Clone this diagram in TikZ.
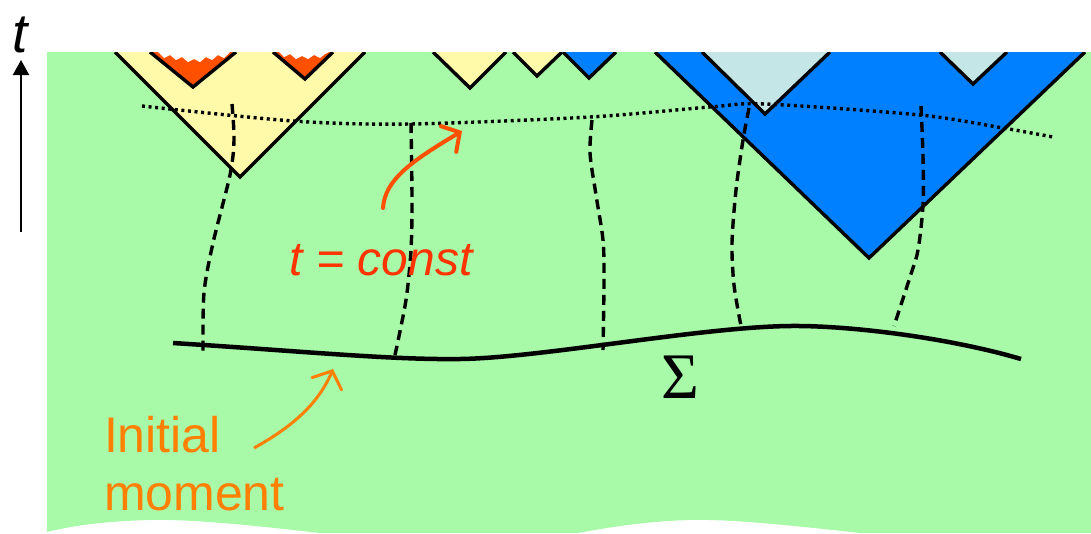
\documentclass[tikz,border=0pt]{standalone}
\usepackage{fontspec}
\setmainfont{Liberation Sans}
\newfontfamily\sigmafont{Liberation Serif}
\usetikzlibrary{arrows.meta}
\definecolor{bggreen}{RGB}{168,250,168}
\definecolor{lyellow}{RGB}{255,250,170}
\definecolor{hotorange}{RGB}{255,80,0}
\definecolor{skyblue}{RGB}{0,128,255}
\definecolor{paleblue}{RGB}{196,230,230}
\definecolor{redtext}{RGB}{255,51,0}
\definecolor{arrowred}{RGB}{255,80,0}
\definecolor{initorange}{RGB}{255,128,0}
\begin{document}
\begin{tikzpicture}[x=1pt,y=-1pt,
  coneedge/.style={line width=3.4pt,line join=miter},
  worldline/.style={line width=3.4pt,dash pattern=on 10pt off 6pt},
  slice/.style={line width=3.4pt,dash pattern=on 3pt off 3.6pt},
  surface/.style={line width=4.5pt},
  label/.style={inner sep=0pt,outer sep=0pt}]
\useasboundingbox (0,0) rectangle (1091,533);
% background sheet with torn bottom edge
\fill[bggreen] (47,52) -- (1091,52) -- (1091,533) -- (860,533)
  .. controls (780,524) and (725,519) .. (690,520)
  .. controls (650,521) and (610,527) .. (578,533)
  -- (320,533)
  .. controls (250,525) and (190,519) .. (150,520)
  .. controls (110,521) and (75,525) .. (47,532) -- cycle;
\begin{scope}
\clip (47,52) rectangle (1091,533);
% big yellow cone
\fill[lyellow] (115,52) -- (240,177) -- (365,52) -- cycle;
\draw[coneedge] (115,52) -- (240,177) -- (365,52);
% orange cones with singular (zigzag) tops
\fill[hotorange] (150,52) -- (193,87) -- (236,52) -- cycle;
\fill[white] (158,50) -- (158,52) -- (164,58) -- (170,55) -- (176,60) -- (182,57) -- (188,62) -- (194,59)
  -- (200,62) -- (206,57) -- (212,60) -- (218,55) -- (224,58) -- (230,52) -- (230,50) -- cycle;
\draw[coneedge] (150,52) -- (193,87) -- (236,52);
\fill[hotorange] (273,52) -- (305,79) -- (333,52) -- cycle;
\fill[white] (279,50) -- (279,52) -- (284,57) -- (290,54) -- (296,59) -- (302,56) -- (308,59) -- (314,55)
  -- (320,58) -- (325,54) -- (329,52) -- (329,50) -- cycle;
\draw[coneedge] (273,52) -- (305,79) -- (333,52);
% small cones in the middle
\fill[lyellow] (433,52) -- (470,88) -- (506,52) -- cycle;
\draw[coneedge] (433,52) -- (470,88) -- (506,52);
\fill[lyellow] (513,52) -- (537,76) -- (562,52) -- cycle;
\draw[coneedge] (513,52) -- (537,76) -- (562,52);
\fill[skyblue] (563,52) -- (589,78) -- (616,52) -- cycle;
\draw[coneedge] (563,52) -- (589,78) -- (616,52);
% big blue cone
\fill[skyblue] (655,52) -- (869,258) -- (1085,52) -- cycle;
\draw[coneedge] (655,52) -- (869,258) -- (1085,52);
\fill[paleblue] (702,52) -- (765,114) -- (830,52) -- cycle;
\draw[coneedge] (702,52) -- (765,114) -- (830,52);
\fill[paleblue] (940,52) -- (973,84) -- (1007,52) -- cycle;
\draw[coneedge] (940,52) -- (973,84) -- (1007,52);
\end{scope}
% t = const slice
\draw[slice] plot[smooth] coordinates {(142,106) (293,121) (410,124) (590,117) (710,107) (765,104) (920,115) (1003,128) (1053,137)};
% world lines
\draw[worldline] plot[smooth] coordinates {(232,104) (234,140) (230,175) (213,243) (204,293) (203,352)};
\draw[worldline] plot[smooth] coordinates {(411,123) (412,200) (411,250) (406,300) (395,355)};
\draw[worldline] plot[smooth] coordinates {(592,120) (590,153) (596,195) (603,240) (604,280) (603,350)};
\draw[worldline] plot[smooth] coordinates {(749,108) (743,140) (736,190) (732,243) (734,285) (741,326)};
\draw[worldline] plot[smooth] coordinates {(921,106) (923,157) (923,205) (918,250) (910,277) (894,326)};
% initial surface Sigma
\draw[surface] (173,343) .. controls (300,351) and (390,360) .. (460,359)
  .. controls (540,358) and (700,327) .. (790,326)
  .. controls (850,325.3) and (950,338) .. (1021,359);
\node[label,anchor=base] (sigma) at (680,398) {\fontsize{65}{65}\selectfont\sigmafont Σ};
% time axis
\coordinate (taxisfoot) at (21,232);
\coordinate (taxishead) at (21,60);
\draw[line width=2pt,-{Triangle[length=15pt,width=16pt]}] (taxisfoot) -- (taxishead);
\node[label,anchor=base] (tlabel) at (20,52) {\fontsize{55}{55}\selectfont\itshape t};
% t = const label and arrow
\node[label,anchor=base,text=redtext] (tconst) at (381,275) {\fontsize{48}{48}\selectfont\itshape t = const};
\coordinate (tconstfrom) at (383,208);
\coordinate (tconstto) at (462,131);
\draw[arrowred,line width=4pt,line cap=round,-{Straight Barb[length=13pt,width=30pt,line cap=round]}]
  (tconstfrom) .. controls (385,180) and (410,162) .. (tconstto);
% Initial moment label and arrow
\node[label,anchor=base west,text=initorange] (init1) at (104,452) {\fontsize{50}{58}\selectfont Initial};
\node[label,anchor=base west,text=initorange] (init2) at (104,510) {\fontsize{50}{58}\selectfont moment};
\coordinate (initfrom) at (254,448);
\coordinate (initto) at (333,369);
\draw[initorange,line width=3pt,-{Straight Barb[length=14pt,width=32pt,line cap=round]}]
  (initfrom) .. controls (290,428) and (318,405) .. (initto);
\end{tikzpicture}
\end{document}
